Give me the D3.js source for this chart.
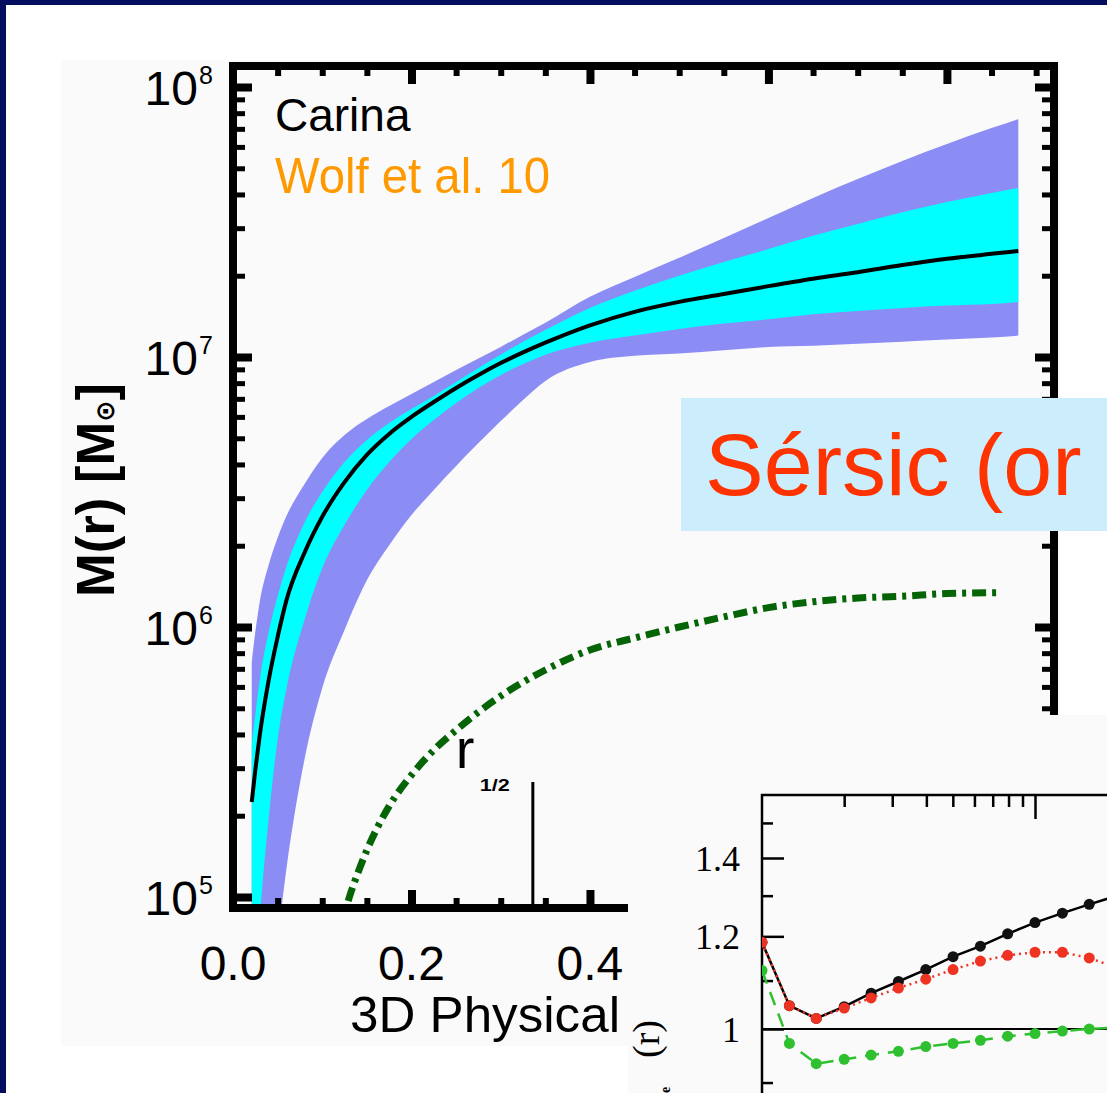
<!DOCTYPE html>
<html>
<head>
<meta charset="utf-8">
<script src="https://cdn.jsdelivr.net/npm/d3@7"></script>
<style>
html, body { margin: 0; padding: 0; background: #fff; overflow: hidden; }
svg { display: block; }
</style>
</head>
<body>
<svg id="slide" width="1107" height="1093" font-family="'Liberation Sans', Arial, sans-serif"></svg>
<script>
// ---- main panel: Carina M(r) ----
var radius = [0.021, 0.025, 0.03, 0.04, 0.05, 0.06, 0.08, 0.10, 0.125, 0.15, 0.175, 0.2, 0.225, 0.25, 0.275,
              0.3, 0.325, 0.35, 0.4, 0.45, 0.5, 0.55, 0.6, 0.65, 0.7, 0.75, 0.8, 0.85, 0.88];
var massMedian = [2.25e5, 2.95e5, 3.98e5, 6.36e5, 9.18e5, 1.26e6, 1.88e6, 2.56e6, 3.44e6, 4.34e6, 5.19e6, 6.0e6, 6.81e6, 7.68e6, 8.58e6,
                  9.50e6, 1.04e7, 1.13e7, 1.31e7, 1.47e7, 1.60e7, 1.71e7, 1.83e7, 1.95e7, 2.06e7, 2.19e7, 2.31e7, 2.41e7, 2.47e7];
var mass1sigHi = [3.66e5, 4.72e5, 6.36e5, 9.58e5, 1.30e6, 1.68e6, 2.43e6, 3.16e6, 4.08e6, 4.93e6, 5.70e6, 6.42e6, 7.17e6, 8.08e6, 9.11e6,
                  1.02e7, 1.14e7, 1.26e7, 1.52e7, 1.76e7, 2.0e7, 2.25e7, 2.51e7, 2.81e7, 3.11e7, 3.44e7, 3.75e7, 4.05e7, 4.23e7];
var mass1sigLo = [2.71e4, 4.52e4, 8.22e4, 1.96e5, 3.82e5, 5.94e5, 1.06e6, 1.65e6, 2.39e6, 3.22e6, 4.08e6, 4.97e6, 5.84e6, 6.75e6, 7.68e6,
                  8.58e6, 9.42e6, 1.02e7, 1.13e7, 1.20e7, 1.27e7, 1.33e7, 1.38e7, 1.44e7, 1.48e7, 1.52e7, 1.55e7, 1.57e7, 1.60e7];
var mass2sigHi = [7.42e5, 9.58e5, 1.24e6, 1.70e6, 2.14e6, 2.58e6, 3.38e6, 4.23e6, 5.14e6, 5.89e6, 6.58e6, 7.29e6, 8.08e6, 8.95e6, 9.87e6,
                  1.09e7, 1.21e7, 1.34e7, 1.67e7, 1.98e7, 2.33e7, 2.76e7, 3.27e7, 3.88e7, 4.56e7, 5.32e7, 6.15e7, 7.05e7, 7.61e7];
var mass2sigLo = [3.2e3, 7.5e3, 1.49e4, 3.82e4, 6.93e4, 1.28e5, 3.22e5, 5.94e5, 9.75e5, 1.49e6, 2.01e6, 2.60e6, 3.22e6, 3.95e6, 4.80e6,
                  5.79e6, 6.93e6, 8.15e6, 9.58e6, 1.01e7, 1.03e7, 1.06e7, 1.09e7, 1.10e7, 1.12e7, 1.14e7, 1.16e7, 1.18e7, 1.20e7];

var starRadius = [0.12, 0.13, 0.14, 0.15, 0.175, 0.2, 0.225, 0.25, 0.3, 0.35, 0.4, 0.45, 0.5, 0.55, 0.6, 0.65, 0.7, 0.75, 0.8, 0.856];
var starMass = [7.55e4, 9.9e4, 1.23e5, 1.49e5, 2.17e5, 2.83e5, 3.50e5, 4.15e5, 5.55e5, 6.93e5, 8.22e5, 9.11e5, 1.0e6, 1.09e6,
                1.18e6, 1.24e6, 1.28e6, 1.30e6, 1.33e6, 1.34e6];
var rHalf = 0.336;

var xTickValues = [0, 0.2, 0.4];
var xTickLabels = ["0.0", "0.2", "0.4"];
var yTickExponents = [5, 6, 7, 8];

// ---- inset panel ----
var insetR = [1, 1.26, 1.58, 2.0, 2.51, 3.16, 3.98, 5.01, 6.31, 7.94, 10, 12.6, 15.8, 20];
var insetBlack = [1.186, 1.047, 1.021, 1.045, 1.073, 1.098, 1.124, 1.153, 1.177, 1.206, 1.233, 1.256, 1.278, 1.30];
var insetRed = [1.186, 1.047, 1.021, 1.042, 1.063, 1.084, 1.103, 1.124, 1.143, 1.156, 1.163, 1.163, 1.15, 1.128];
var insetGreen = [1.122, 0.972, 0.934, 0.942, 0.950, 0.957, 0.966, 0.972, 0.978, 0.986, 0.991, 0.996, 1.0, 1.003];
var insetYTicks = [1, 1.2, 1.4];
var insetYLabels = ["1", "1.2", "1.4"];

var W = 1107, H = 1093;
var serif = "'Liberation Serif', 'Times New Roman', serif";
var svg = d3.select("#slide");

// slide background
svg.append("rect").attr("width", W).attr("height", H).attr("fill", "#050d5e");
svg.append("rect").attr("x", 6).attr("y", 5).attr("width", W).attr("height", H).attr("fill", "#ffffff");
svg.append("rect").attr("x", 61).attr("y", 60).attr("width", 999).attr("height", 986).attr("fill", "#fafafa");

var frame = { left: 233, right: 1054, top: 66, bottom: 908 };
var x = d3.scaleLinear().domain([0, 0.92]).range([frame.left, frame.right]);
var y = d3.scaleLog().domain([1e5, 1e8]).range([897, 87]);

var defs = svg.append("defs");
defs.append("clipPath").attr("id", "plotClip").append("rect")
    .attr("x", frame.left).attr("y", frame.top)
    .attr("width", frame.right - frame.left).attr("height", frame.bottom - frame.top);

var plot = svg.append("g").attr("clip-path", "url(#plotClip)");

function band(lo, hi) {
    return d3.area()
        .x(function(d) { return x(d); })
        .y0(function(d, i) { return y(lo[i]); })
        .y1(function(d, i) { return y(hi[i]); })
        .curve(d3.curveMonotoneX)(radius);
}

plot.append("path").attr("d", band(mass2sigLo, mass2sigHi)).attr("fill", "#8c8cf5");
plot.append("path").attr("d", band(mass1sigLo, mass1sigHi)).attr("fill", "#00ffff");

plot.append("path")
    .attr("d", d3.line()
        .x(function(d) { return x(d); })
        .y(function(d, i) { return y(massMedian[i]); })
        .curve(d3.curveMonotoneX)(radius))
    .attr("fill", "none").attr("stroke", "#000").attr("stroke-width", 4);

plot.append("path")
    .attr("d", d3.line()
        .x(function(d) { return x(d); })
        .y(function(d, i) { return y(starMass[i]); })
        .curve(d3.curveMonotoneX)(starRadius))
    .attr("fill", "none").attr("stroke", "#056405").attr("stroke-width", 7)
    .attr("stroke-dasharray", "14,6,4,6");

// r_1/2 marker
plot.append("line")
    .attr("x1", x(rHalf)).attr("x2", x(rHalf))
    .attr("y1", 782).attr("y2", frame.bottom)
    .attr("stroke", "#000").attr("stroke-width", 3);
svg.append("text").attr("x", x(rHalf) - 77).attr("y", 768)
    .attr("font-size", 56).attr("fill", "#000").text("r");
svg.append("text").attr("x", x(rHalf) - 53).attr("y", 791)
    .attr("font-size", 16).attr("font-weight", "bold")
    .attr("textLength", 30).attr("lengthAdjust", "spacingAndGlyphs").text("1/2");

// ticks (inward, IDL style)
var yAll = d3.scaleLog().domain([y.invert(frame.bottom), y.invert(frame.top)]).ticks();
var yMajor = yAll.filter(function(v) { return Math.abs(Math.log10(v) - Math.round(Math.log10(v))) < 1e-9; });
var yMinor = yAll.filter(function(v) { return yMajor.indexOf(v) < 0; });
var xMajor = [0.2, 0.4, 0.6, 0.8];
var xMinor = d3.range(1, 19).map(function(i) { return i * 0.05; })
    .filter(function(v) { return Math.abs(v * 5 - Math.round(v * 5)) > 1e-9; });

function tickAxis(gen, tx, ty, values, size, width) {
    var g = svg.append("g").attr("transform", "translate(" + tx + "," + ty + ")")
        .call(gen.tickValues(values).tickSize(-size).tickFormat(""));
    g.select(".domain").remove();
    g.selectAll("line").attr("stroke", "#000").attr("stroke-width", width);
    return g;
}
tickAxis(d3.axisLeft(y), frame.left, 0, yMajor, 19, 8);
tickAxis(d3.axisLeft(y), frame.left, 0, yMinor, 12, 5);
tickAxis(d3.axisRight(y), frame.right, 0, yMajor, 19, 8);
tickAxis(d3.axisRight(y), frame.right, 0, yMinor, 12, 5);
tickAxis(d3.axisBottom(x), 0, frame.bottom, xMajor, 18, 8);
tickAxis(d3.axisBottom(x), 0, frame.bottom, xMinor, 10, 6);
tickAxis(d3.axisTop(x), 0, frame.top, xMajor, 18, 8);
tickAxis(d3.axisTop(x), 0, frame.top, xMinor, 10, 6);

svg.append("rect")
    .attr("x", frame.left).attr("y", frame.top)
    .attr("width", frame.right - frame.left).attr("height", frame.bottom - frame.top)
    .attr("fill", "none").attr("stroke", "#000").attr("stroke-width", 8);

// tick labels
svg.selectAll("text.ylab").data(yTickExponents).enter().append("text")
    .attr("class", "ylab")
    .attr("x", 198).attr("y", function(k) { return y(Math.pow(10, k)) + 18; })
    .attr("text-anchor", "end").attr("font-size", 48).text("10");
svg.selectAll("text.yexp").data(yTickExponents).enter().append("text")
    .attr("class", "yexp")
    .attr("x", 199).attr("y", function(k) { return y(Math.pow(10, k)) - 3; })
    .attr("font-size", 25).text(function(k) { return k; });

svg.selectAll("text.xlab").data(xTickValues).enter().append("text")
    .attr("class", "xlab")
    .attr("x", function(v) { return x(v); }).attr("y", 980)
    .attr("text-anchor", "middle").attr("font-size", 48)
    .text(function(v, i) { return xTickLabels[i]; });

svg.append("text").attr("x", 350).attr("y", 1032)
    .attr("font-size", 50).attr("textLength", 270).attr("lengthAdjust", "spacingAndGlyphs")
    .text("3D Physical");

var yTitle = svg.append("text")
    .attr("transform", "translate(114,490) rotate(-90)")
    .attr("text-anchor", "middle").attr("font-size", 54).attr("font-weight", "bold")
    .attr("textLength", 214).attr("lengthAdjust", "spacingAndGlyphs");
yTitle.append("tspan").text("M(r) [M");
yTitle.append("tspan").attr("font-size", 26).attr("font-family", "'DejaVu Sans', sans-serif").text("\u2299");
yTitle.append("tspan").text("]");

svg.append("text").attr("x", 275).attr("y", 131).attr("font-size", 46).attr("fill", "#000").text("Carina");
svg.append("text").attr("x", 275).attr("y", 193).attr("font-size", 50).attr("fill", "#ff9900")
    .attr("textLength", 275).attr("lengthAdjust", "spacingAndGlyphs").text("Wolf et al. 10");

// Sérsic label box
svg.append("rect").attr("x", 681).attr("y", 398).attr("width", W - 681).attr("height", 133).attr("fill", "#ccedfc");
svg.append("text").attr("x", 705).attr("y", 495).attr("font-size", 88).attr("fill", "#ff3300").text("Sérsic (or");

// ---- inset ----
svg.append("rect").attr("x", 628).attr("y", 715).attr("width", W - 628).attr("height", H - 715).attr("fill", "#fafafa");

var xi = d3.scaleLog().domain([1, 10]).range([762, 1035]);
var yi = d3.scaleLog().domain([1, 1.4]).range([1029, 858]);
var inTop = 795;

defs.append("clipPath").attr("id", "insetClip").append("rect")
    .attr("x", xi(1)).attr("y", inTop).attr("width", W - xi(1)).attr("height", H - inTop);

var inset = svg.append("g");
var iTop = inset.append("g").attr("transform", "translate(0," + inTop + ")")
    .call(d3.axisTop(xi).tickValues([2, 3, 4, 5, 6, 7, 8, 9]).tickSize(-12).tickFormat(""));
iTop.select(".domain").remove();
var iTop2 = inset.append("g").attr("transform", "translate(0," + inTop + ")")
    .call(d3.axisTop(xi).tickValues([10]).tickSize(-24).tickFormat(""));
iTop2.select(".domain").remove();

var iLeftMinor = inset.append("g").attr("transform", "translate(" + xi(1) + ",0)")
    .call(d3.axisLeft(yi).tickValues([0.9, 1.1, 1.3, 1.5]).tickSize(-11).tickFormat(""));
iLeftMinor.select(".domain").remove();
var iLeft = inset.append("g").attr("transform", "translate(" + xi(1) + ",0)")
    .call(d3.axisLeft(yi).tickValues(insetYTicks).tickSize(-22).tickPadding(22)
        .tickFormat(function(v, i) { return insetYLabels[i]; }));
iLeft.select(".domain").remove();
iLeft.attr("font-family", serif).attr("font-size", 36);
iLeft.selectAll("text").attr("fill", "#000").attr("dy", "0.34em");
inset.selectAll(".tick line").attr("stroke", "#000").attr("stroke-width", 2.5);

inset.append("path")
    .attr("d", "M" + xi(1) + "," + H + "V" + inTop + "H" + W)
    .attr("fill", "none").attr("stroke", "#000").attr("stroke-width", 2.5);
inset.append("line").attr("x1", xi(1)).attr("x2", W).attr("y1", yi(1)).attr("y2", yi(1))
    .attr("stroke", "#000").attr("stroke-width", 2);

var iPlot = inset.append("g").attr("clip-path", "url(#insetClip)");
function insetSeries(vals, color, dash, lineColor) {
    iPlot.append("path")
        .attr("d", d3.line()
            .x(function(d) { return xi(d); })
            .y(function(d, i) { return yi(vals[i]); })(insetR))
        .attr("fill", "none").attr("stroke", lineColor).attr("stroke-width", 2.5)
        .attr("stroke-dasharray", dash);
    iPlot.selectAll(null).data(insetR).enter().append("circle")
        .attr("cx", function(d) { return xi(d); })
        .attr("cy", function(d, i) { return yi(vals[i]); })
        .attr("r", 5.5).attr("fill", color);
}
insetSeries(insetGreen, "#2fc02f", "14,9", "#2fc02f");
insetSeries(insetBlack, "#111", null, "#000");
insetSeries(insetRed, "#ee3322", "2,4", "#ee3322");

inset.append("text").attr("transform", "translate(659,1020) rotate(-90)")
    .attr("text-anchor", "end").attr("font-size", 38)
    .attr("font-family", serif).text("(r)");
inset.append("text").attr("transform", "translate(670,1093) rotate(-90)")
    .attr("font-size", 14).attr("font-weight", "bold")
    .attr("font-family", serif).text("e");
</script>
</body>
</html>
